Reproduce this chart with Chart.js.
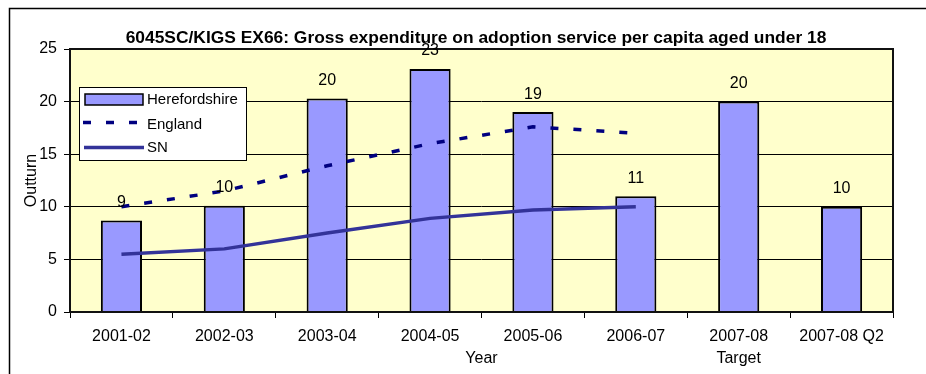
<!DOCTYPE html>
<html>
<head>
<meta charset="utf-8">
<script src="https://cdn.jsdelivr.net/npm/chart.js@4/dist/chart.umd.min.js"></script>
<style>
  html, body { margin: 0; padding: 0; background: #ffffff; }
  canvas { display: block; }
</style>
</head>
<body>
<canvas id="c" width="926" height="374"></canvas>
<script>
// Chart data
const chartTitle = '6045SC/KIGS EX66: Gross expenditure on adoption service per capita aged under 18';
const years = ['2001-02', '2002-03', '2003-04', '2004-05', '2005-06', '2006-07', ['2007-08', 'Target'], '2007-08 Q2'];
const herefordshire = [8.7, 10.1, 20.3, 23.1, 19.0, 11.0, 20.0, 10.0];
const england = [10.0, 11.5, 13.9, 16.0, 17.6, 17.0, null, null];
const statNeighbours = [5.5, 6.0, 7.5, 8.9, 9.7, 10.0, null, null];
const yMin = 0, yMax = 25, yStep = 5;

const FONT = 'Arial, "Liberation Sans", sans-serif';

// Page background, outer frame and plot-area fill
const backdrop = {
  id: 'backdrop',
  beforeDraw(chart) {
    const { ctx, chartArea: a } = chart;
    ctx.save();
    ctx.fillStyle = '#ffffff';
    ctx.fillRect(0, 0, chart.width, chart.height);
    ctx.strokeStyle = '#000000';
    ctx.lineWidth = 1.5;
    ctx.strokeRect(9.5, 8.5, 960, 420);
    ctx.fillStyle = '#FFFFCC';
    ctx.fillRect(a.left, a.top, a.right - a.left, a.bottom - a.top);
    ctx.restore();
  }
};

// Plot border, bar value labels, title and legend box
const overlay = {
  id: 'overlay',
  afterDraw(chart) {
    const { ctx, chartArea: a } = chart;
    ctx.save();
    ctx.strokeStyle = '#111111';
    ctx.lineWidth = 2;
    ctx.strokeRect(a.left, a.top, a.right - a.left, a.bottom - a.top);

    // value labels above the bars
    const bars = chart.getDatasetMeta(0);
    ctx.fillStyle = '#000000';
    ctx.font = '16px ' + FONT;
    ctx.textAlign = 'center';
    ctx.textBaseline = 'middle';
    bars.data.forEach((el, i) => {
      const v = chart.data.datasets[0].data[i];
      ctx.fillText(Math.round(v).toString(), el.x, el.y - 18);
    });

    // title
    ctx.font = 'bold 17.4px ' + FONT;
    ctx.fillText(chartTitle, 476, 38);

    // legend
    const ds = chart.data.datasets;
    ctx.fillStyle = '#ffffff';
    ctx.fillRect(79.5, 87.5, 167, 73);
    ctx.strokeStyle = '#000000';
    ctx.lineWidth = 1;
    ctx.strokeRect(79.5, 87.5, 167, 73);

    ctx.fillStyle = ds[0].backgroundColor;
    ctx.fillRect(85, 94, 58, 11);
    ctx.lineWidth = 1.5;
    ctx.strokeStyle = ds[0].borderColor;
    ctx.strokeRect(85, 94, 58, 11);

    ctx.lineWidth = ds[1].borderWidth;
    ctx.strokeStyle = ds[1].borderColor;
    ctx.setLineDash(ds[1].borderDash);
    ctx.beginPath(); ctx.moveTo(83, 122.5); ctx.lineTo(140, 122.5); ctx.stroke();
    ctx.setLineDash([]);

    ctx.lineWidth = ds[2].borderWidth;
    ctx.strokeStyle = ds[2].borderColor;
    ctx.beginPath(); ctx.moveTo(84, 147.5); ctx.lineTo(144, 147.5); ctx.stroke();

    ctx.fillStyle = '#000000';
    ctx.font = '15px ' + FONT;
    ctx.textAlign = 'left';
    ctx.fillText(ds[0].label, 147, 100);
    ctx.fillText(ds[1].label, 147, 125);
    ctx.fillText(ds[2].label, 147, 148);
    ctx.restore();
  }
};

new Chart(document.getElementById('c'), {
  type: 'bar',
  data: {
    labels: years,
    datasets: [
      {
        type: 'bar',
        label: 'Herefordshire',
        data: herefordshire,
        backgroundColor: '#9999FF',
        borderColor: '#000000',
        borderWidth: 2,
        barPercentage: 0.4,
        categoryPercentage: 1.0,
        order: 2
      },
      {
        type: 'line',
        label: 'England',
        data: england,
        borderColor: '#000080',
        borderWidth: 3.5,
        borderDash: [8, 15],
        borderCapStyle: 'butt',
        pointRadius: 0,
        tension: 0,
        fill: false,
        spanGaps: false,
        order: 1
      },
      {
        type: 'line',
        label: 'SN',
        data: statNeighbours,
        borderColor: '#333399',
        borderWidth: 3.5,
        pointRadius: 0,
        tension: 0,
        fill: false,
        order: 0
      }
    ]
  },
  options: {
    responsive: false,
    animation: false,
    devicePixelRatio: 1,
    layout: { padding: { left: 0, right: 33, top: 49, bottom: 0 } },
    plugins: {
      legend: { display: false },
      title: { display: false },
      tooltip: { enabled: false }
    },
    scales: {
      x: {
        offset: true,
        grid: { offset: true, drawOnChartArea: false, drawTicks: true, tickLength: 6, color: '#000000', lineWidth: 1 },
        border: { display: false },
        ticks: { color: '#000000', font: { family: FONT, size: 16, lineHeight: 1.35 }, padding: 8, maxRotation: 0, autoSkip: false },
        title: { display: true, text: 'Year', color: '#000000', font: { family: FONT, size: 16 }, padding: { top: 0, bottom: 6 } },
        afterFit(scale) { scale.height = 62; }
      },
      y: {
        min: yMin,
        max: yMax,
        ticks: { stepSize: yStep, color: '#000000', font: { family: FONT, size: 16 }, padding: 7 },
        grid: { color: '#000000', lineWidth: 1, drawTicks: true, tickLength: 6 },
        border: { display: false },
        title: { display: true, text: 'Outturn', color: '#000000', font: { family: FONT, size: 16 }, padding: { top: 22, bottom: 0 } },
        afterFit(scale) { scale.width = 70; }
      }
    }
  },
  plugins: [backdrop, overlay]
});
</script>
</body>
</html>
